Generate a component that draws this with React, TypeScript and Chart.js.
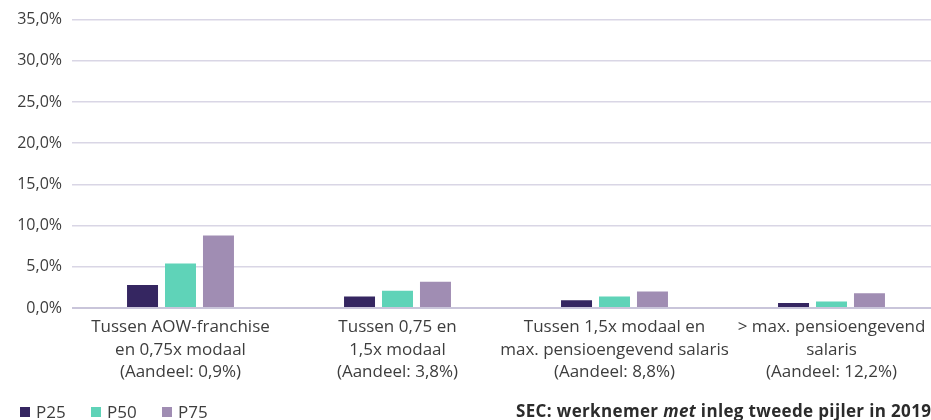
import React, { useEffect, useRef } from "react";
import { Chart, registerables } from "chart.js";

Chart.register(...registerables);

const categories: string[][] = [
  ["Tussen AOW-franchise", "en 0,75x modaal", "(Aandeel: 0,9%)"],
  ["Tussen 0,75 en", "1,5x modaal", "(Aandeel: 3,8%)"],
  ["Tussen 1,5x modaal en", "max. pensioengevend salaris", "(Aandeel: 8,8%)"],
  ["> max. pensioengevend", "salaris", "(Aandeel: 12,2%)"],
];

const seriesNames = ["P25", "P50", "P75"];
const p25 = [2.8, 1.4, 0.95, 0.6];
const p50 = [5.4, 2.1, 1.4, 0.8];
const p75 = [8.8, 3.2, 2.0, 1.8];
const seriesColors = ["#352661", "#5fd3b8", "#a08db3"];

const yMin = 0;
const yMax = 35;
const yStep = 5;

const subtitleParts = ["SEC: werknemer ", "met", " inleg tweede pijler in 2019"];

const FONT = "'Open Sans', Lato, sans-serif";
const legendLeft = [20, 91, 162];

export default function App() {
  const canvasRef = useRef<HTMLCanvasElement | null>(null);

  useEffect(() => {
    document.body.style.margin = "0";
    const canvas = canvasRef.current;
    if (!canvas) return;
    const values = [p25, p50, p75];
    const chart = new Chart(canvas, {
      type: "bar",
      data: {
        labels: categories,
        datasets: seriesNames.map((name, i) => ({
          label: name,
          data: values[i],
          backgroundColor: seriesColors[i],
          borderWidth: 0,
          categoryPercentage: 0.525,
          barPercentage: 0.816,
        })),
      },
      options: {
        responsive: false,
        animation: false,
        layout: { padding: { top: 18, left: 0, right: 0, bottom: 0 } },
        plugins: {
          legend: { display: false },
          tooltip: { enabled: false },
          title: { display: false },
        },
        scales: {
          x: {
            offset: true,
            grid: { display: false, drawTicks: false },
            border: { display: false },
            ticks: {
              padding: 8,
              color: "#3d3d3d",
              font: { family: FONT, size: 17, lineHeight: 1.32 },
              maxRotation: 0,
              autoSkip: false,
            },
            afterFit: (scale: any) => {
              scale.height = 112;
            },
          },
          y: {
            min: yMin,
            max: yMax,
            grid: {
              drawTicks: false,
              color: (ctx: any) => (ctx.tick && ctx.tick.value === 0 ? "#c9c5da" : "#d9d6e5"),
              lineWidth: (ctx: any) => (ctx.tick && ctx.tick.value === 0 ? 2 : 1.5),
            },
            border: { display: false },
            ticks: {
              stepSize: yStep,
              padding: 10,
              color: "#3d3d3d",
              font: { family: FONT, size: 16 },
              callback: (v: any) => Number(v).toFixed(1).replace(".", ",") + "%",
            },
            afterFit: (scale: any) => {
              scale.width = 72;
            },
          },
        },
      },
    });
    return () => chart.destroy();
  }, []);

  return (
    <div
      style={{
        position: "fixed",
        left: 0,
        top: 0,
        width: 931,
        height: 420,
        overflow: "hidden",
        background: "#ffffff",
      }}
    >
      <div style={{ position: "relative", width: 940, height: 420 }}>
        <canvas ref={canvasRef} width={940} height={420} />
        {seriesNames.map((n, i) => (
          <div
            key={n}
            style={{
              position: "absolute",
              left: legendLeft[i],
              top: 401,
              display: "flex",
              alignItems: "center",
              fontFamily: FONT,
              fontSize: 17,
              color: "#3d3d3d",
              lineHeight: "22px",
              whiteSpace: "nowrap",
            }}
          >
            <span
              style={{
                display: "inline-block",
                width: 10,
                height: 10,
                background: seriesColors[i],
                marginRight: 6,
              }}
            />
            <span>{n}</span>
          </div>
        ))}
        <div
          style={{
            position: "absolute",
            left: 516,
            top: 400,
            whiteSpace: "nowrap",
            fontFamily: FONT,
            fontSize: 17,
            letterSpacing: "0.35px",
            fontWeight: 700,
            color: "#2b2b2b",
            lineHeight: "22px",
          }}
        >
          {subtitleParts[0]}
          <i>{subtitleParts[1]}</i>
          {subtitleParts[2]}
        </div>
      </div>
    </div>
  );
}
